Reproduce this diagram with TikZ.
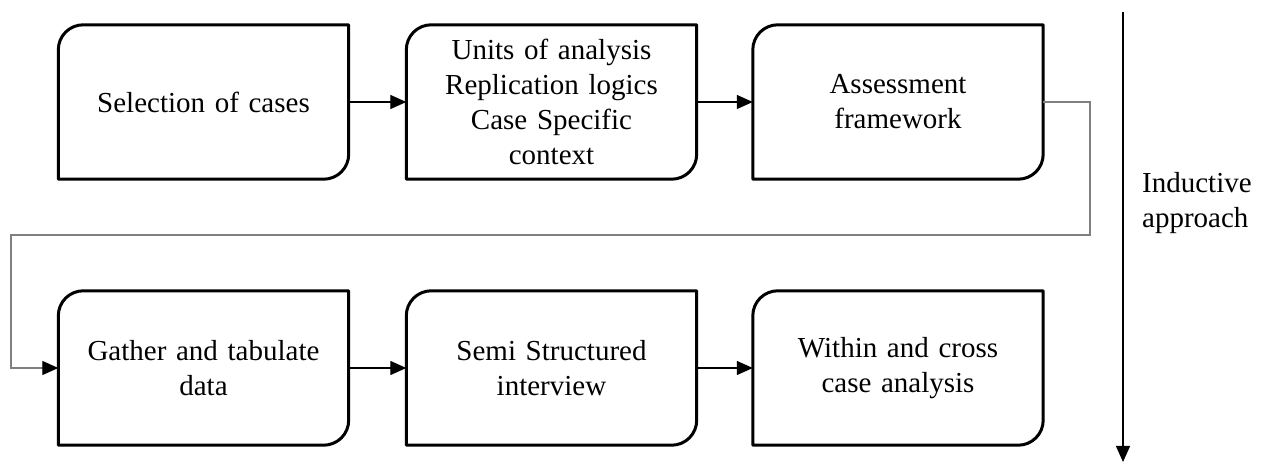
\documentclass[tikz,border=0pt]{standalone}
\usepackage{fontspec}
\setmainfont{Liberation Serif}
\usetikzlibrary{arrows.meta}
\begin{document}
\begin{tikzpicture}[x=1pt,y=1pt,
  stepbox/.style={rectangle, minimum width=290pt, minimum height=154pt,
    inner sep=0pt, text width=280pt, align=center,
    font=\fontsize{29}{35}\selectfont},
  boxline/.style={line width=3pt, line join=round},
  flow/.style={line width=1.3pt, -{Triangle[length=16pt,width=14pt]}},
  back/.style={line width=1.3pt, draw=black!50, -{Triangle[length=16pt,width=14pt,fill=black,color=black]}},
  lbl/.style={font=\fontsize{29}{35}\selectfont, align=left, inner sep=0pt}]
\useasboundingbox[fill=white] (0,0) rectangle (1277,463);

% first row
\node[stepbox] (b1) at (203.5,361) {Selection of cases};
\node[stepbox] (b2) at (551.5,361) {Units of analysis\\Replication logics\\Case Specific\\context};
\node[stepbox] (b3) at (898,361) {Assessment\\framework};
% second row
\node[stepbox] (b4) at (203.5,95) {Gather and tabulate\\data};
\node[stepbox] (b5) at (551.5,95) {Semi Structured\\interview};
\node[stepbox] (b6) at (898,95) {Within and cross\\case analysis};

% outlines: rounded top-left and bottom-right corners
\foreach \n in {b1,b2,b3,b4,b5,b6}
  \draw[boxline] (\n.south west) -- ([yshift=-25pt]\n.north west)
    arc[start angle=180,end angle=90,radius=25pt] -- (\n.north east)
    -- ([yshift=25pt]\n.south east)
    arc[start angle=0,end angle=-90,radius=25pt] -- cycle;

% connectors
\draw[flow] (b1.east) -- (b2.west);
\draw[flow] (b2.east) -- (b3.west);
\draw[flow] (b4.east) -- (b5.west);
\draw[flow] (b5.east) -- (b6.west);
\draw[back] (b3.east) -- (1090,361) -- (1090,228) -- (11,228) -- (11,95) -- (b4.west);

% direction of the approach
\coordinate (top) at (1123,451);
\coordinate (bot) at (1123,1);
\draw[flow] (top) -- (bot);
\node[lbl, anchor=west] (ind) at (1142,260) {Inductive\\approach};
\end{tikzpicture}
\end{document}
